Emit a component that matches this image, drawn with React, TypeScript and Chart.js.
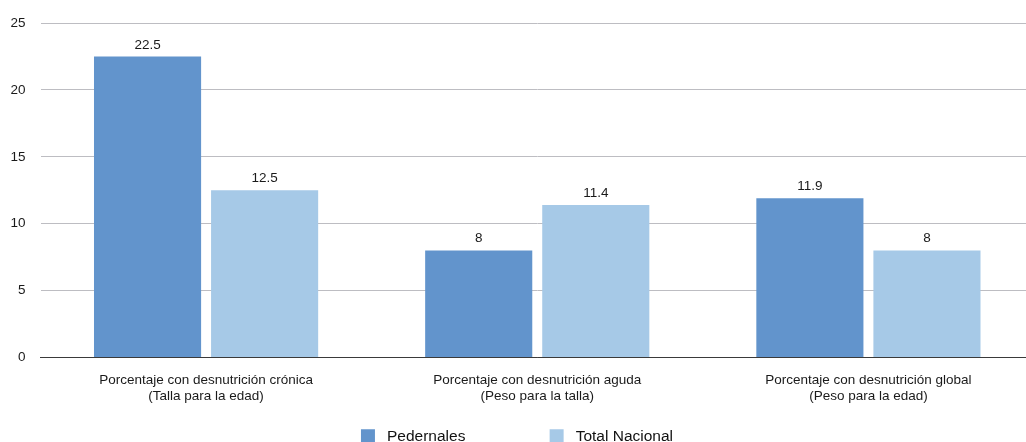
import React, { useEffect, useRef } from "react";
import { Chart, registerables } from "chart.js";

Chart.register(...registerables);

const categories: string[][] = [
  ["Porcentaje con desnutrición crónica", "(Talla para la edad)"],
  ["Porcentaje con desnutrición aguda", "(Peso para la talla)"],
  ["Porcentaje con desnutrición global", "(Peso para la edad)"],
];
const pedernales = [22.5, 8, 11.9];
const totalNacional = [12.5, 11.4, 8];
const seriesNames = ["Pedernales", "Total Nacional"];
const yTicks = [0, 5, 10, 15, 20, 25];

const FONT = "'Liberation Sans', Arial, Helvetica, sans-serif";

const valueLabels = {
  id: "valueLabels",
  afterDatasetsDraw(chart: any) {
    const ctx = chart.ctx;
    ctx.save();
    ctx.font = `13.5px ${FONT}`;
    ctx.fillStyle = "#1a1a1a";
    ctx.textAlign = "center";
    ctx.textBaseline = "alphabetic";
    chart.data.datasets.forEach((ds: any, i: number) => {
      const meta = chart.getDatasetMeta(i);
      meta.data.forEach((el: any, j: number) => {
        ctx.fillText(String(ds.data[j]), el.x, el.y - 8);
      });
    });
    ctx.restore();
  },
};

export default function App() {
  const ref = useRef<HTMLCanvasElement>(null);
  useEffect(() => {
    if (!ref.current) return;
    const chart = new Chart(ref.current, {
      type: "bar",
      data: {
        labels: categories,
        datasets: [
          {
            label: seriesNames[0],
            data: pedernales,
            backgroundColor: "#6294cc",
            barPercentage: 0.915,
            categoryPercentage: 0.707,
          },
          {
            label: seriesNames[1],
            data: totalNacional,
            backgroundColor: "#a6c9e7",
            barPercentage: 0.915,
            categoryPercentage: 0.707,
          },
        ],
      },
      options: {
        responsive: false,
        animation: false,
        devicePixelRatio: 1,
        layout: { padding: { top: 21, right: 0, left: 0, bottom: 0 } },
        plugins: {
          tooltip: { enabled: false },
          legend: {
            position: "bottom",
            labels: {
              font: { size: 15.5, family: FONT },
              color: "#111",
              boxWidth: 14,
              boxHeight: 14,
              padding: 11,
              generateLabels(c: any) {
                const items = (Chart.defaults.plugins.legend.labels as any).generateLabels(c);
                items.forEach((it: any, i: number) => {
                  it.lineWidth = 0;
                  it.text = "\u00a0" + it.text + (i === 0 ? "\u00a0".repeat(17) : "");
                });
                return items;
              },
            },
          },
        },
        scales: {
          x: {
            grid: { display: false, drawTicks: false },
            border: { display: true, color: "#3a3a3a", width: 1 },
            afterFit(scale: any) {
              scale.height = 60;
            },
            ticks: {
              padding: 15,
              color: "#1a1a1a",
              font: { size: 13.5, family: FONT, lineHeight: 1.185 },
              maxRotation: 0,
            },
          },
          y: {
            min: 0,
            max: 25,
            afterBuildTicks(scale: any) {
              scale.ticks = yTicks.map((v) => ({ value: v }));
            },
            afterFit(scale: any) {
              scale.width = 40.5;
            },
            grid: {
              drawTicks: false,
              color: (c: any) => (c.tick && c.tick.value === 0 ? "#3a3a3a" : "#bdbdc2"),
              lineWidth: 1,
            },
            border: { display: false },
            ticks: {
              padding: 15,
              color: "#1a1a1a",
              font: { size: 13.5, family: FONT },
            },
          },
        },
      },
      plugins: [valueLabels],
    });
    return () => chart.destroy();
  }, []);
  return (
    <div style={{ position: "absolute", left: 0, top: 0, width: 1026, height: 442, overflow: "hidden", background: "#fff" }}>
      <canvas ref={ref} width={1034} height={454} style={{ display: "block" }} />
    </div>
  );
}
